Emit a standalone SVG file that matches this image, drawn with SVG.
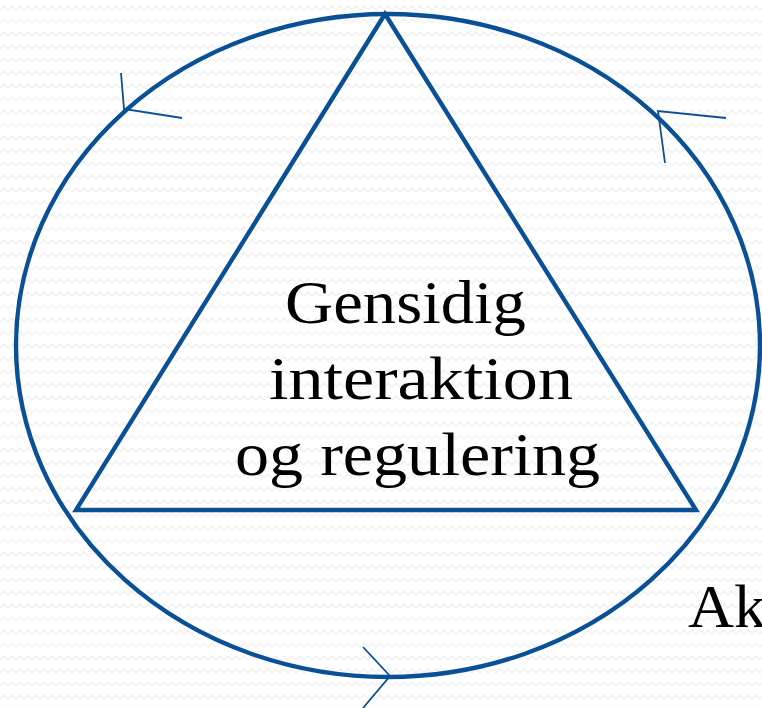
<svg xmlns="http://www.w3.org/2000/svg" width="762" height="708" viewBox="0 0 762 708">
  <style>
    .shape { fill: none; stroke: #0a5096; stroke-width: 4.4; stroke-linejoin: miter; }
    .tick { fill: none; stroke: #0a5096; stroke-width: 1.8; stroke-linecap: butt; }
    .label { font-family: "Liberation Serif", "DejaVu Serif", serif; font-size: 61px; fill: #000000; }
  </style>
  <defs>
    <pattern id="zig" x="0" y="2" width="16" height="13" patternUnits="userSpaceOnUse">
      <path d="M0 8 L4 4 L8 8 L12 4 L16 8" fill="none" stroke="#f3f3f3" stroke-width="1.6"/>
    </pattern>
  </defs>
  <rect x="0" y="0" width="762" height="708" fill="#ffffff"/>
  <rect x="0" y="0" width="762" height="708" fill="url(#zig)"/>

  <g id="cycle">
    <ellipse class="shape" cx="388" cy="345.5" rx="372" ry="331.5"/>
  </g>

  <g id="connectors">
    <polyline class="tick" points="121,73 124,109 182,118"/>
    <polyline class="tick" points="726,118 658,111 665,163"/>
    <polyline class="tick" points="363,647 390,676 363,708"/>
  </g>

  <g id="triangle">
    <polygon class="shape" points="385,14 76,510 696,510"/>
    <text class="label" x="285" y="323" textLength="241" lengthAdjust="spacingAndGlyphs">Gensidig</text>
    <text class="label" x="269" y="399" textLength="304" lengthAdjust="spacingAndGlyphs">interaktion</text>
    <text class="label" x="235" y="475" textLength="365" lengthAdjust="spacingAndGlyphs">og regulering</text>
  </g>

  <g id="outer-label">
    <text class="label" x="688" y="627" textLength="78" lengthAdjust="spacingAndGlyphs">Ak</text>
  </g>
</svg>
